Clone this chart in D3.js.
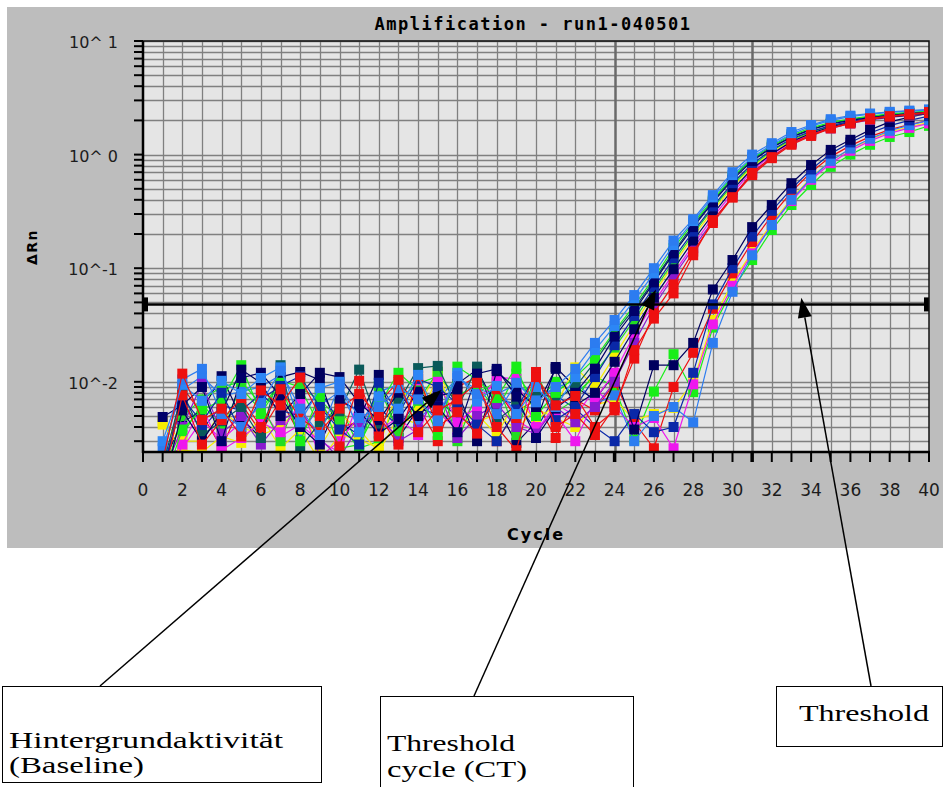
<!DOCTYPE html>
<html lang="de">
<head>
<meta charset="utf-8">
<title>Amplification - run1-040501</title>
<script src="https://cdn.jsdelivr.net/npm/d3@7"></script>
<style>
  body { margin: 0; background: #fff; }
  svg { display: block; }
  .tick-label { font-family: "DejaVu Sans", Verdana, sans-serif; fill: #1c1c1c; }
  .note { font-family: "Liberation Serif", "Times New Roman", serif; font-size: 24px; fill: #000; }
</style>
</head>
<body>
<script>

// ---- data ----
var cycles = [1,2,3,4,5,6,7,8,9,10,11,12,13,14,15,16,17,18,19,20,
              21,22,23,24,25,26,27,28,29,30,31,32,33,34,35,36,37,38,39,40];
var xTickLabels = [0,2,4,6,8,10,12,14,16,18,20,22,24,26,28,30,32,34,36,38,40];
var yTickValues = [10, 1, 0.1, 0.01];
var yTickLabels = ["10^ 1", "10^ 0", "10^-1", "10^-2"];
var markedCycles = [24, 31];
var threshold = 0.048;

// group B (late wells)
var b1 = [0.0019,0.0044,0.0056,0.0112,0.0048,0.0032,0.0110,0.0122,0.0104,0.0034,0.0047,0.0115,0.0032,0.0058,0.0052,0.0096,0.0128,0.0060,0.0029,0.0044,
          0.0135,0.0090,0.0070,0.0118,0.0038,0.014,0.014,0.022,0.065,0.118,0.23,0.36,0.56,0.81,1.10,1.35,1.65,1.94,2.14,2.32];
var b2 = [0.0009,0.0034,0.0064,0.0040,0.0088,0.0056,0.0102,0.0090,0.0040,0.0064,0.0026,0.0030,0.0070,0.0096,0.0112,0.0076,0.0092,0.0056,0.0118,0.0066,
          0.0100,0.0078,0.0112,0.0090,0.0031,0.0082,0.0175,0.0081,0.030,0.065,0.118,0.217,0.36,0.54,0.78,1.00,1.22,1.43,1.58,1.79];
var b3 = [0.0026,0.0085,0.0112,0.0075,0.0082,0.0090,0.0115,0.0034,0.0062,0.0082,0.0040,0.0082,0.0094,0.0046,0.0070,0.0108,0.0086,0.0078,0.0095,0.0074,
          0.0088,0.0104,0.0064,0.0076,0.0030,0.0050,0.0060,0.0044,0.022,0.062,0.13,0.24,0.40,0.62,0.88,1.13,1.38,1.62,1.82,2.00];
var b4 = [0.0017,0.0066,0.0038,0.0062,0.0056,0.0078,0.0056,0.0050,0.0084,0.0044,0.0034,0.0060,0.0040,0.0070,0.0068,0.0050,0.0040,0.0070,0.0064,0.0038,
          0.0076,0.0058,0.0040,0.0030,0.0052,0.0036,0.0040,0.012,0.048,0.10,0.19,0.32,0.50,0.74,1.02,1.28,1.55,1.80,2.00,2.18];
var b5 = [0.0014,0.0090,0.0052,0.0026,0.0064,0.0036,0.0070,0.0034,0.0064,0.0040,0.0044,0.0066,0.0100,0.0062,0.0030,0.0090,0.0110,0.0030,0.0056,0.0068,
          0.0032,0.0070,0.0056,0.0098,0.0044,0.0026,0.0090,0.018,0.044,0.090,0.17,0.29,0.47,0.70,0.96,1.20,1.44,1.66,1.84,2.00];
var b6 = [0.0045,0.0030,0.0030,0.0056,0.0040,0.0034,0.0040,0.0060,0.0026,0.0052,0.0038,0.0024,0.0050,0.0042,0.0116,0.0064,0.0044,0.0052,0.0038,0.0058,
          0.0048,0.0040,0.0062,0.0070,0.0046,0.0052,0.0059,0.010,0.035,0.075,0.14,0.25,0.41,0.63,0.88,1.12,1.36,1.58,1.76,1.92];
var b7 = [0.0022,0.0026,0.0046,0.0031,0.0044,0.0060,0.0033,0.0042,0.0030,0.0024,0.0070,0.0044,0.0034,0.0092,0.0054,0.0038,0.0072,0.0098,0.0046,0.0036,
          0.0064,0.0050,0.0086,0.0060,0.0040,0.0048,0.0026,0.0095,0.032,0.070,0.135,0.24,0.39,0.60,0.84,1.08,1.32,1.54,1.72,1.88];

// group A (early wells)
var a01 = [0.0021,0.0105,0.0130,0.0052,0.0040,0.0065,0.0125,0.0058,0.0034,0.0095,0.0048,0.0060,0.0088,0.0070,0.0045,0.0112,0.0078,0.0052,0.0098,0.0066,
           0.009,0.013,0.022,0.035,0.058,0.100,0.175,0.27,0.44,0.70,1.00,1.26,1.58,1.82,2.05,2.20,2.30,2.38,2.44,2.50];
var a02 = [0.0049,0.0062,0.0090,0.0030,0.0108,0.0120,0.0075,0.0040,0.0028,0.0069,0.0055,0.0035,0.0047,0.0082,0.0061,0.0036,0.0118,0.0130,0.0074,0.0032,
           0.0058,0.008,0.013,0.025,0.042,0.075,0.135,0.23,0.38,0.60,0.88,1.15,1.42,1.66,1.86,2.00,2.12,2.22,2.30,2.36];
var a03 = [0.0016,0.0072,0.0044,0.0080,0.0036,0.0070,0.0092,0.0112,0.0060,0.0038,0.0028,0.0098,0.0052,0.0106,0.0090,0.0064,0.0042,0.0030,0.0057,0.0118,
           0.0046,0.006,0.011,0.021,0.038,0.068,0.122,0.21,0.35,0.56,0.83,1.10,1.38,1.60,1.80,1.96,2.08,2.18,2.25,2.30];
var a04 = [0.0012,0.0038,0.0057,0.0068,0.0140,0.0052,0.0098,0.0030,0.0078,0.0026,0.0028,0.0062,0.0120,0.0084,0.0034,0.0136,0.0104,0.0072,0.0136,0.0050,
           0.008,0.011,0.016,0.028,0.047,0.082,0.150,0.25,0.40,0.64,0.92,1.20,1.48,1.72,1.92,2.06,2.18,2.28,2.35,2.42];
var a05 = [0.0018,0.0082,0.0034,0.0045,0.0060,0.0032,0.0140,0.0026,0.0044,0.0055,0.0128,0.0041,0.0066,0.0132,0.0138,0.0058,0.0136,0.0046,0.0062,0.0084,
           0.0070,0.009,0.015,0.027,0.044,0.078,0.140,0.24,0.39,0.62,0.90,1.17,1.44,1.68,1.88,2.03,2.15,2.25,2.32,2.38];
var a06 = [0.0010,0.0028,0.0061,0.0025,0.0032,0.0044,0.0036,0.0065,0.0022,0.0030,0.0050,0.0038,0.0048,0.0034,0.0100,0.0044,0.0060,0.0110,0.0106,0.0040,
           0.0052,0.0030,0.007,0.012,0.026,0.050,0.090,0.16,0.28,0.46,0.72,1.00,1.28,1.52,1.74,1.92,2.06,2.16,2.24,2.30];
var a07 = [0.0015,0.0040,0.0096,0.0035,0.0050,0.0028,0.0046,0.0056,0.0032,0.0021,0.0042,0.0054,0.0030,0.0038,0.0085,0.0032,0.0050,0.0064,0.0040,0.0035,
           0.0060,0.0044,0.006,0.010,0.022,0.046,0.085,0.15,0.26,0.43,0.68,0.96,1.24,1.48,1.70,1.88,2.02,2.13,2.21,2.28];
var a09 = [0.0030,0.0094,0.0068,0.0102,0.0078,0.0108,0.0134,0.0044,0.0088,0.0100,0.0036,0.0074,0.0058,0.0115,0.0048,0.0120,0.0067,0.0092,0.0052,0.0090,
           0.006,0.011,0.019,0.031,0.052,0.090,0.160,0.26,0.42,0.66,0.95,1.22,1.52,1.78,2.00,2.16,2.27,2.35,2.41,2.46];
var a10 = [0.0042,0.0025,0.0024,0.0033,0.0029,0.0050,0.0026,0.0038,0.0020,0.0034,0.0031,0.0026,0.0090,0.0060,0.0124,0.0040,0.0052,0.0034,0.0070,0.0046,
           0.0062,0.0134,0.009,0.017,0.032,0.060,0.108,0.19,0.32,0.52,0.78,1.05,1.33,1.56,1.77,1.93,2.05,2.15,2.22,2.28];
var a11 = [0.0014,0.0050,0.0070,0.0090,0.0100,0.0064,0.0030,0.0088,0.0070,0.0046,0.0025,0.0092,0.0036,0.0068,0.0122,0.0030,0.0080,0.0100,0.0034,0.0120,
           0.0054,0.007,0.012,0.020,0.035,0.064,0.115,0.20,0.34,0.54,0.80,1.08,1.35,1.58,1.78,1.94,2.06,2.16,2.24,2.31];
var a12 = [0.0011,0.0056,0.0030,0.0054,0.0128,0.0098,0.0050,0.0078,0.0120,0.0110,0.0065,0.0046,0.0080,0.0050,0.0075,0.0082,0.0030,0.0124,0.0086,0.0060,
           0.0130,0.0062,0.008,0.015,0.029,0.055,0.098,0.175,0.30,0.49,0.75,1.02,1.30,1.54,1.75,1.92,2.05,2.15,2.23,2.29];
var a13 = [0.0013,0.0076,0.0028,0.0046,0.0072,0.0040,0.0086,0.0048,0.0036,0.0058,0.0078,0.0050,0.0028,0.0112,0.0040,0.0054,0.0035,0.0086,0.0048,0.0122,
           0.0040,0.0052,0.0034,0.006,0.016,0.040,0.072,0.14,0.25,0.42,0.66,0.93,1.22,1.46,1.70,1.88,2.04,2.16,2.25,2.32];
var a08 = [0.0020,0.0118,0.0046,0.0058,0.0033,0.0084,0.0062,0.0109,0.0050,0.0027,0.0102,0.0033,0.0104,0.0036,0.0056,0.0070,0.0098,0.0040,0.0025,0.0110,
           0.0062,0.0075,0.004,0.0056,0.019,0.036,0.060,0.13,0.265,0.42,0.69,0.95,1.26,1.49,1.72,1.90,2.09,2.18,2.27,2.37];

var seriesValues = [b2, b6, b5, b7, b3, b4, b1,
                    a10, a11, a06, a07, a05, a04, a12, a03, a02, a13, a09, a01, a08];
var seriesColors = ["#18ee18", "#f6ee00", "#ee1010", "#ee18ee", "#2c7cf0", "#0a28a8", "#00005e",
                    "#f6ee00", "#22dd22", "#ee18ee", "#8a1ad0", "#0a5a5a", "#18ee18", "#00005e", "#0a28a8", "#00006a", "#ee1010", "#2c86f6", "#2c7cf0", "#ee1010"];

// annotation arrows: tip in data space, foot on the box top (page pixels)
var noteTips = [[15.2, 0.0085], [26.1, 0.065], [33.5, 0.055]];
var noteFeet = [[100, 686], [474, 696], [871, 686]];
var noteBoxes = [[2, 686, 319, 96], [380, 696, 253, 95], [776, 686, 166, 60]];
var noteLines = [["Hintergrundaktivität", "(Baseline)"], ["Threshold", "cycle (CT)"], ["Threshold"]];
var noteBaselines = [[748, 773], [751, 777], [721]];
var noteWidths = [[274, 135], [128, 140], [130]];

// ---- layout ----
var W = 943, H = 787;
var pL = 143, pR = 929, pT = 41, pB = 452;

var svg = d3.select("body").append("svg")
    .attr("width", W)
    .attr("height", H);

// grey window panel
svg.append("rect")
    .attr("x", 7).attr("y", 7)
    .attr("width", W - 7).attr("height", 541)
    .attr("fill", "#bdbdbd");

var x = d3.scaleLinear().domain([0, 40]).range([pL, pR]);
var y = d3.scaleLog().domain([0.00241, 10]).range([pB, pT]);

svg.append("defs").append("clipPath").attr("id", "plotclip")
  .append("rect")
    .attr("x", pL).attr("y", pT)
    .attr("width", pR - pL).attr("height", pB - pT);

svg.append("rect")
    .attr("x", pL).attr("y", pT)
    .attr("width", pR - pL).attr("height", pB - pT)
    .attr("fill", "#e5e5e5");

// grid
var grid = svg.append("g");
grid.selectAll("line.h")
    .data(y.ticks())
    .enter().append("line")
    .attr("x1", pL).attr("x2", pR)
    .attr("y1", function(d) { return Math.round(y(d)) + 0.5; })
    .attr("y2", function(d) { return Math.round(y(d)) + 0.5; })
    .attr("stroke", "#808080")
    .attr("stroke-width", 1.3);

grid.selectAll("line.v")
    .data(cycles.slice(0, 39))
    .enter().append("line")
    .attr("x1", function(d) { return Math.round(x(d)) + 0.5; })
    .attr("x2", function(d) { return Math.round(x(d)) + 0.5; })
    .attr("y1", pT).attr("y2", pB)
    .attr("stroke", function(d) { return markedCycles.indexOf(d) >= 0 ? "#6a6a6a" : "#808080"; })
    .attr("stroke-width", function(d) { return markedCycles.indexOf(d) >= 0 ? 2.5 : 1.3; });

// curves
var plot = svg.append("g").attr("clip-path", "url(#plotclip)");

var line = d3.line()
    .x(function(d, i) { return x(cycles[i]); })
    .y(function(d) { return y(d); });

seriesValues.forEach(function(vals, k) {
    var g = plot.append("g");
    g.append("path")
        .attr("d", line(vals))
        .attr("fill", "none")
        .attr("stroke", seriesColors[k])
        .attr("stroke-width", 1.2);
    g.selectAll("rect")
        .data(vals)
        .enter().append("rect")
        .attr("x", function(d, i) { return x(cycles[i]) - 5; })
        .attr("y", function(d) { return y(d) - 5; })
        .attr("width", 10).attr("height", 10)
        .attr("fill", seriesColors[k]);
});

// threshold line + handles
svg.append("line")
    .attr("x1", pL).attr("x2", pR)
    .attr("y1", y(threshold)).attr("y2", y(threshold))
    .attr("stroke", "#000").attr("stroke-width", 2.5);
svg.selectAll("rect.handle")
    .data([pL, pR - 5])
    .enter().append("rect")
    .attr("x", function(d) { return d; })
    .attr("y", y(threshold) - 7)
    .attr("width", 5).attr("height", 14)
    .attr("fill", "#000");

// frame
svg.append("rect")
    .attr("x", pL).attr("y", pT)
    .attr("width", pR - pL).attr("height", pB - pT)
    .attr("fill", "none").attr("stroke", "#111").attr("stroke-width", 1.5);
svg.append("line").attr("x1", pL).attr("x2", pL).attr("y1", pT).attr("y2", pB + 1)
    .attr("stroke", "#000").attr("stroke-width", 2.5);
svg.append("line").attr("x1", pL - 1).attr("x2", pR + 1).attr("y1", pB).attr("y2", pB)
    .attr("stroke", "#000").attr("stroke-width", 2.5);

// y ticks (every minor log step)
svg.append("g").selectAll("line")
    .data(y.ticks())
    .enter().append("line")
    .attr("x1", pL - 9).attr("x2", pL)
    .attr("y1", function(d) { return y(d); })
    .attr("y2", function(d) { return y(d); })
    .attr("stroke", "#000").attr("stroke-width", 2);

svg.append("g").selectAll("text")
    .data(yTickValues)
    .enter().append("text")
    .attr("class", "tick-label")
    .attr("x", 118)
    .attr("y", function(d) { return y(d) + 7; })
    .attr("text-anchor", "end")
    .style("font-size", "16px")
    .text(function(d, i) { return yTickLabels[i]; });

// x ticks
svg.append("g").selectAll("line")
    .data([0].concat(cycles))
    .enter().append("line")
    .attr("x1", function(d) { return x(d); })
    .attr("x2", function(d) { return x(d); })
    .attr("y1", pB).attr("y2", pB + 10)
    .attr("stroke", "#000")
    .attr("stroke-width", function(d) { return markedCycles.indexOf(d) >= 0 ? 3.5 : 2; });

svg.append("g").selectAll("text")
    .data(xTickLabels)
    .enter().append("text")
    .attr("class", "tick-label")
    .attr("x", function(d) { return x(d); })
    .attr("y", 496)
    .attr("text-anchor", "middle")
    .style("font-size", "17px")
    .text(function(d) { return d; });

// titles
svg.append("text")
    .attr("x", 533).attr("y", 30)
    .attr("text-anchor", "middle")
    .style("font-family", "'DejaVu Sans Mono', monospace")
    .style("font-weight", "bold")
    .style("font-size", "17px")
    .style("letter-spacing", "1.5px")
    .text("Amplification - run1-040501");

svg.append("text")
    .attr("transform", "translate(37,247) rotate(-90)")
    .attr("text-anchor", "middle")
    .style("font-family", "'DejaVu Sans', sans-serif")
    .style("font-weight", "bold")
    .style("font-size", "14px")
    .style("letter-spacing", "1.5px")
    .text("ΔRn");

svg.append("text")
    .attr("x", 536).attr("y", 540)
    .attr("text-anchor", "middle")
    .style("font-family", "'DejaVu Sans', sans-serif")
    .style("font-weight", "bold")
    .style("font-size", "16px")
    .style("letter-spacing", "2px")
    .text("Cycle");

// annotation boxes
noteBoxes.forEach(function(b, i) {
    svg.append("rect")
        .attr("x", b[0] + 0.5).attr("y", b[1] + 0.5)
        .attr("width", b[2]).attr("height", b[3])
        .attr("fill", "#fff").attr("stroke", "#000").attr("stroke-width", 1);
    svg.append("g").selectAll("text")
        .data(noteLines[i])
        .enter().append("text")
        .attr("class", "note")
        .attr("x", b[0] + (i === 2 ? 23 : 7))
        .attr("y", function(d, j) { return noteBaselines[i][j]; })
        .attr("textLength", function(d, j) { return noteWidths[i][j]; })
        .attr("lengthAdjust", "spacingAndGlyphs")
        .text(function(d) { return d; });
});

// arrows
noteTips.forEach(function(t, i) {
    var tx = x(t[0]), ty = y(t[1]);
    var fx = noteFeet[i][0], fy = noteFeet[i][1];
    var dx = tx - fx, dy = ty - fy, len = Math.sqrt(dx * dx + dy * dy);
    var ux = dx / len, uy = dy / len;
    var hl = 20, hw = 7;
    var bx = tx - ux * hl, by = ty - uy * hl;
    svg.append("line")
        .attr("x1", fx).attr("y1", fy).attr("x2", bx).attr("y2", by)
        .attr("stroke", "#000").attr("stroke-width", 1.5);
    svg.append("polygon")
        .attr("points", [[tx, ty], [bx - uy * hw, by + ux * hw], [bx + uy * hw, by - ux * hw]]
            .map(function(p) { return p.join(","); }).join(" "))
        .attr("fill", "#000");
});

</script>
</body>
</html>
